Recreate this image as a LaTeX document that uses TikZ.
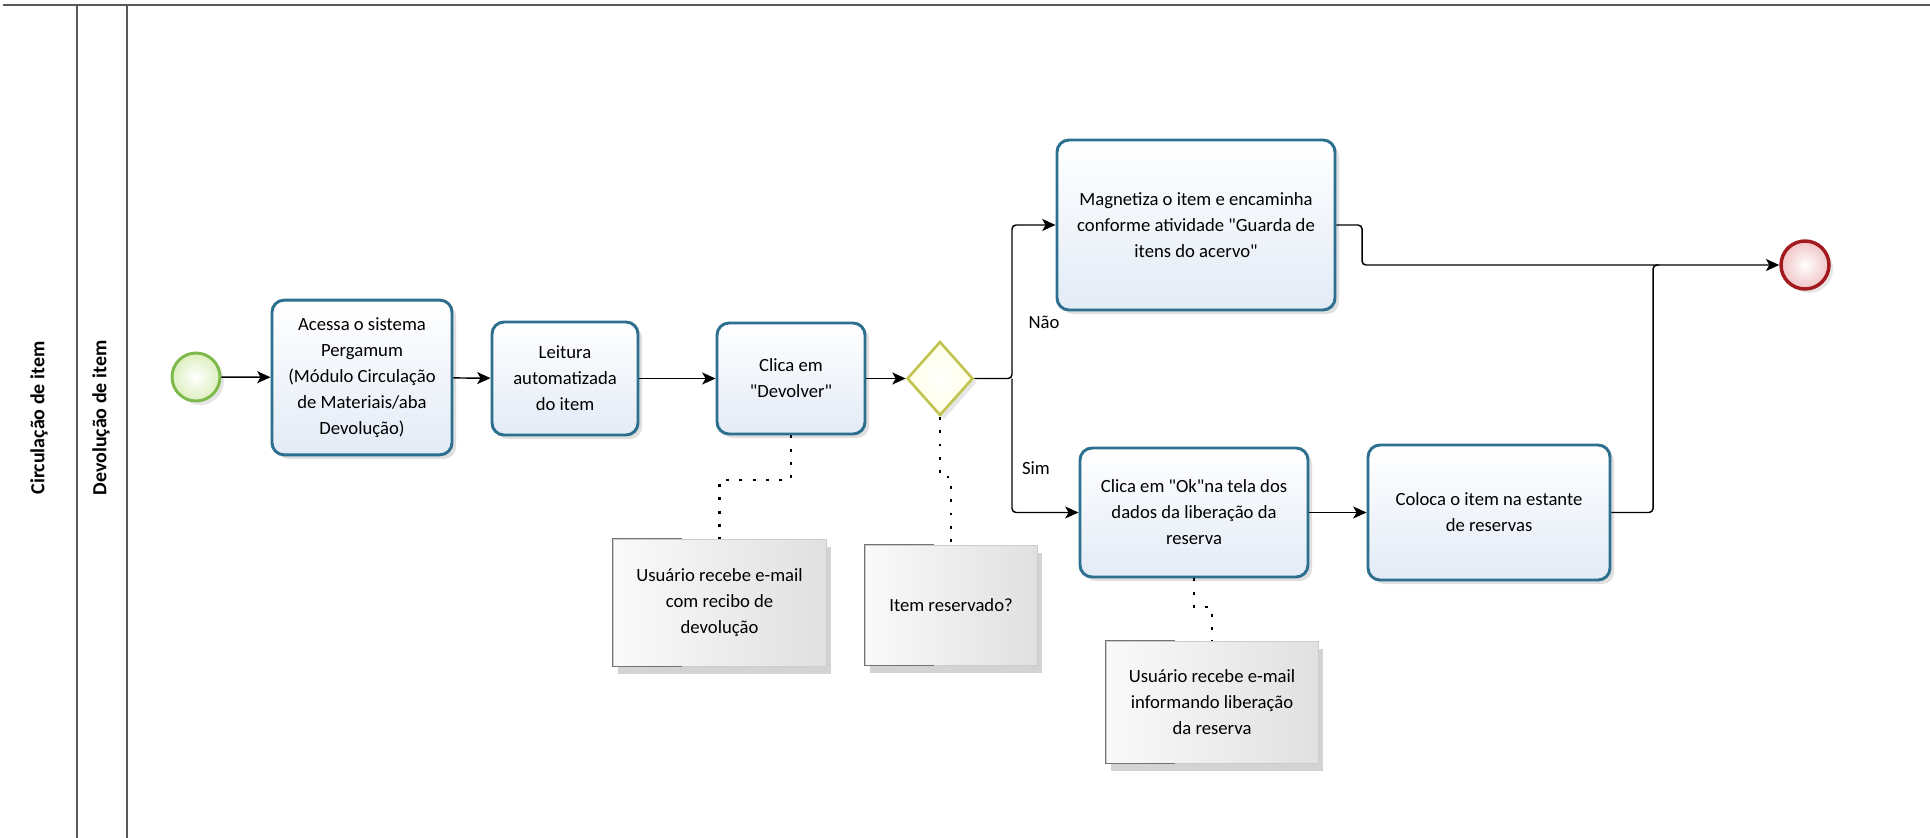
\documentclass[tikz,border=0pt]{standalone}
\usepackage{fontspec}
\setmainfont{Carlito}
\usepackage{tikz}
\usetikzlibrary{shapes.geometric, arrows.meta, shadows}

\definecolor{taskblue}{HTML}{2C6F8E}
\definecolor{taskfill}{HTML}{E3EBF6}
\definecolor{startgreen}{HTML}{7DB84A}
\definecolor{startfill}{HTML}{DDEFBF}
\definecolor{endred}{HTML}{A31A1E}
\definecolor{endfill}{HTML}{F0C4C6}
\definecolor{gwline}{HTML}{C2C452}
\definecolor{gwfill}{HTML}{FFFFE4}

\begin{document}
\begin{tikzpicture}[x=0.75pt, y=-0.75pt,
    task/.style={draw=taskblue, line width=2.2pt, rounded corners=9pt,
        top color=white, bottom color=taskfill, align=center, inner sep=2pt,
        font=\fontsize{14}{19.5}\selectfont,
        drop shadow={shadow xshift=3pt, shadow yshift=-3pt, opacity=0.25, fill=gray}},
    note/.style={draw=gray!40, line width=0.6pt, left color=gray!4, right color=gray!24,
        align=center, font=\fontsize{14}{19.5}\selectfont,
        drop shadow={shadow xshift=4pt, shadow yshift=-6pt, opacity=0.35, fill=gray}},
    flow/.style={draw=black, line width=1.1pt, rounded corners=3pt,
        -{Stealth[length=10pt, width=9pt, inset=2.5pt]}},
    assoc/.style={draw=black, line width=2.2pt, dash pattern=on 2.2pt off 7.8pt},
    lane/.style={draw=black!65, line width=1.1pt},
    lanelabel/.style={rotate=90, font=\bfseries\fontsize{15}{17}\selectfont},
    bracket/.style={draw=black!55, line width=0.9pt},
    lbl/.style={font=\fontsize{14}{16}\selectfont}]

    \useasboundingbox (0,0) rectangle (1930,838);

    % lanes
    \draw[lane] (3,5) -- (1930,5);
    \draw[lane] (77,5) -- (77,838);
    \draw[lane] (127,5) -- (127,838);
    \node[lanelabel] (circ) at (39,418) {Circulação de item};
    \node[lanelabel] (devl) at (101,418) {Devolução de item};

    % events and gateway
    \node[circle, draw=startgreen, line width=2.2pt, inner sep=0pt, minimum size=36pt,
        inner color=white, outer color=startfill,
        drop shadow={shadow xshift=3pt, shadow yshift=-3pt, opacity=0.2, fill=gray}] (start) at (196,377) {};
    \node[circle, draw=endred, line width=2.6pt, inner sep=0pt, minimum size=36pt,
        inner color=white, outer color=endfill,
        drop shadow={shadow xshift=3pt, shadow yshift=-3pt, opacity=0.2, fill=gray}] (end) at (1805,265) {};
    \node[diamond, draw=gwline, line width=2pt, inner sep=0pt, minimum width=49.5pt, minimum height=55.5pt,
        inner color=white, outer color=gwfill,
        drop shadow={shadow xshift=3pt, shadow yshift=-3pt, opacity=0.2, fill=gray}] (gw) at (940,378.5) {};

    % tasks
    \node[task, minimum width=135pt, minimum height=116pt] (acessa) at (362,377.5)
        {Acessa o sistema\\Pergamum\\(Módulo Circulação\\de Materiais/aba\\Devolução)};
    \node[task, minimum width=109.5pt, minimum height=84.75pt] (leitura) at (565,378.5)
        {Leitura\\automatizada\\do item};
    \node[task, minimum width=111pt, minimum height=83.25pt] (devolver) at (791,378.5)
        {Clica em\\\textquotedbl Devolver\textquotedbl};
    \node[task, minimum width=208.5pt, minimum height=127.5pt] (magn) at (1196,225)
        {Magnetiza o item e encaminha\\conforme atividade \textquotedbl Guarda de\\itens do acervo\textquotedbl};
    \node[task, minimum width=171pt, minimum height=96.75pt] (okbox) at (1194,512.5)
        {Clica em \textquotedbl Ok\textquotedbl na tela dos\\dados da liberação da\\reserva};
    \node[task, minimum width=181.5pt, minimum height=101.25pt] (coloca) at (1489,512.5)
        {Coloca o item na estante\\de reservas};

    % notes
    \node[note, minimum width=159.75pt, minimum height=95.25pt] (note1) at (719.5,602.5)
        {Usuário recebe e-mail\\com recibo de\\devolução};
    \node[note, minimum width=129pt, minimum height=90pt] (note2) at (951,605)
        {Item reservado?};
    \node[note, minimum width=159pt, minimum height=91.5pt] (note3) at (1212,702)
        {Usuário recebe e-mail\\informando liberação\\da reserva};
    \foreach \n in {note1,note2,note3}
        \draw[bracket] ([xshift=52pt]\n.north west) -- (\n.north west) -- (\n.south west) -- ([xshift=52pt]\n.south west);

    % sequence flows
    \coordinate (split) at (1012,378.5);
    \coordinate (j1) at (1362,265);
    \coordinate (j2) at (1653,265);
    \draw[flow] (start) -- (acessa);
    \draw[flow] (acessa) -- (leitura);
    \draw[flow] (leitura) -- (devolver);
    \draw[flow] (devolver) -- (gw);
    \draw[flow] (gw.east) -- (split) |- (magn.west);
    \draw[flow] (split) |- (okbox.west);
    \draw[flow] (okbox) -- (coloca);
    \draw[flow] (magn.east) -| (j1) -- (end.west);
    \draw[line width=1.1pt, rounded corners=3pt] (coloca.east) -| (j2) -- ++(6,0);
    \node[lbl] (nao) at (1044,322) {Não};
    \node[lbl] (sim) at (1036,468) {Sim};

    % associations
    \draw[assoc] (devolver.south) -- (devolver.south |- 0,480) -| (note1.north);
    \draw[assoc] (gw.south) -- (gw.south |- 0,477) -| (note2.north);
    \draw[assoc] (okbox.south) -- (okbox.south |- 0,607) -| (note3.north);

\end{tikzpicture}
\end{document}
